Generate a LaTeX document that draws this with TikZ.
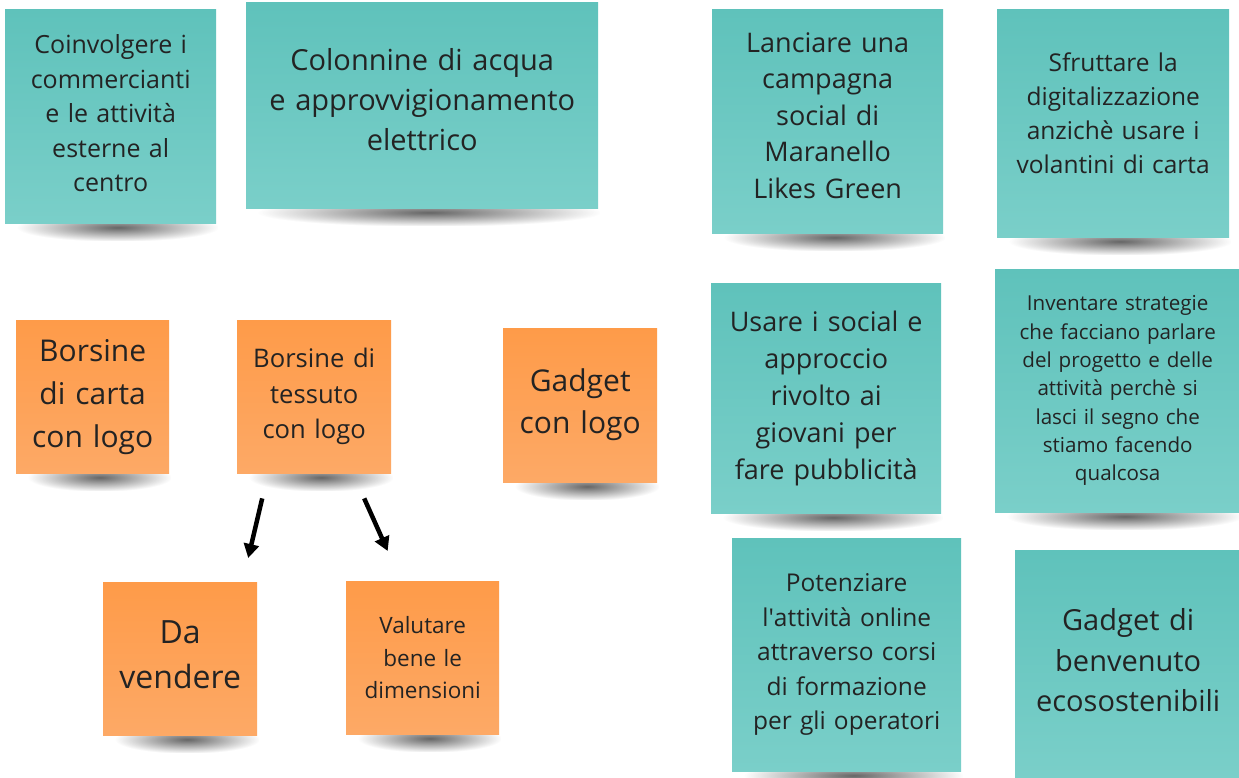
\documentclass[tikz,border=0pt]{standalone}
\usepackage{fontspec}
\setmainfont{Open Sans}
\usetikzlibrary{arrows.meta,positioning,backgrounds,fadings}

\definecolor{tealtop}{HTML}{5FC2BB}
\definecolor{tealbot}{HTML}{7ACFC9}
\definecolor{orangetop}{HTML}{FE9B49}
\definecolor{orangebot}{HTML}{FDA966}
\definecolor{inktext}{HTML}{232323}

\tikzfading[name=softshadow, inner color=transparent!20, outer color=transparent!100]

\begin{document}
\begin{tikzpicture}[x=1pt,y=-1pt,
    note/.style={rectangle,anchor=north west,inner sep=0pt,align=center,text=inktext},
    tealnote/.style={note,top color=tealtop,bottom color=tealbot},
    orangenote/.style={note,top color=orangetop,bottom color=orangebot},
    pointer/.style={line width=4.5pt,-{Triangle[length=14pt,width=15pt]}}]

  \useasboundingbox (0,0) rectangle (1239,778);

  % teal notes
  \node[tealnote,minimum width=211pt,minimum height=214pt,text width=205pt,text depth=144pt,
        font=\fontsize{25}{34.5}\selectfont]        (T1) at (5,9)      {Coinvolgere i\\commercianti\\e le attività\\esterne al\\centro};
  \node[tealnote,minimum width=352pt,minimum height=206pt,text width=340pt,text depth=92pt,
        font=\fontsize{29}{40}\selectfont]          (T2) at (246,2)    {Colonnine di acqua\\e approvvigionamento\\elettrico};
  \node[tealnote,minimum width=231pt,minimum height=224pt,text width=225pt,text depth=158pt,
        font=\fontsize{27}{36.5}\selectfont]        (T3) at (712,9)    {Lanciare una\\campagna\\social di\\Maranello\\Likes Green};
  \node[tealnote,minimum width=232pt,minimum height=228pt,text width=226pt,text depth=122pt,
        font=\fontsize{24.5}{34}\selectfont]        (T4) at (997,9)    {Sfruttare la\\digitalizzazione\\anzichè usare i\\volantini di carta};
  \node[tealnote,minimum width=230pt,minimum height=230pt,text width=224pt,
        font=\fontsize{27}{37}\selectfont]          (T5) at (711,283)  {Usare i social e\\approccio\\rivolto ai\\giovani per\\fare pubblicità};
  \node[tealnote,minimum width=245pt,minimum height=243pt,text width=239pt,
        font=\fontsize{20.6}{28.3}\selectfont]      (T6) at (995,269)  {Inventare strategie\\che facciano parlare\\del progetto e delle\\attività perchè si\\lasci il segno che\\stiamo facendo\\qualcosa};
  \node[tealnote,minimum width=229pt,minimum height=233pt,text width=223pt,
        font=\fontsize{24.5}{34.5}\selectfont]      (T7) at (732,538)  {Potenziare\\l\textquotesingle attività online\\attraverso corsi\\di formazione\\per gli operatori};
  \node[tealnote,minimum width=226pt,minimum height=228pt,text width=220pt,text depth=89pt,
        font=\fontsize{29}{40.5}\selectfont]        (T8) at (1015,550) {Gadget di\\benvenuto\\ecosostenibili};

  % orange notes
  \node[orangenote,minimum width=153pt,minimum height=153pt,text width=149pt,
        font=\fontsize{30}{43}\selectfont]          (O1) at (16,320)   {Borsine\\di carta\\con logo};
  \node[orangenote,minimum width=154pt,minimum height=153pt,text width=150pt,
        font=\fontsize{25.6}{35.5}\selectfont]      (O2) at (237,320)  {Borsine di\\tessuto\\con logo};
  \node[orangenote,minimum width=154pt,minimum height=154pt,text width=150pt,
        font=\fontsize{30}{42}\selectfont]          (O3) at (503,328)  {Gadget\\con logo};
  \node[orangenote,minimum width=154pt,minimum height=153pt,text width=150pt,text depth=53pt,
        font=\fontsize{32}{45}\selectfont]          (O4) at (103,582)  {Da\\vendere};
  \node[orangenote,minimum width=153pt,minimum height=153pt,text width=149pt,
        font=\fontsize{22.5}{32.5}\selectfont]      (O5) at (346,581)  {Valutare\\bene le\\dimensioni};

  % shadows under the notes
  \begin{scope}[on background layer]
    \fill[white] (0,0) rectangle (1239,778);
    \foreach \n in {T1,T2,T3,T4,T5,T6,T7,T8,O1,O2,O3,O4,O5}
      \fill[black!75,path fading=softshadow]
        ([xshift=12pt,yshift=10pt]\n.south west) rectangle ([xshift=2pt,yshift=-18pt]\n.south east);
  \end{scope}

  \draw[pointer] ([xshift=-52pt,yshift=-25pt]O2.south) -- ([xshift=68pt,yshift=24pt]O4.north);
  \draw[pointer] ([xshift=50pt,yshift=-25pt]O2.south)  -- ([xshift=-35pt,yshift=30pt]O5.north);
\end{tikzpicture}
\end{document}
